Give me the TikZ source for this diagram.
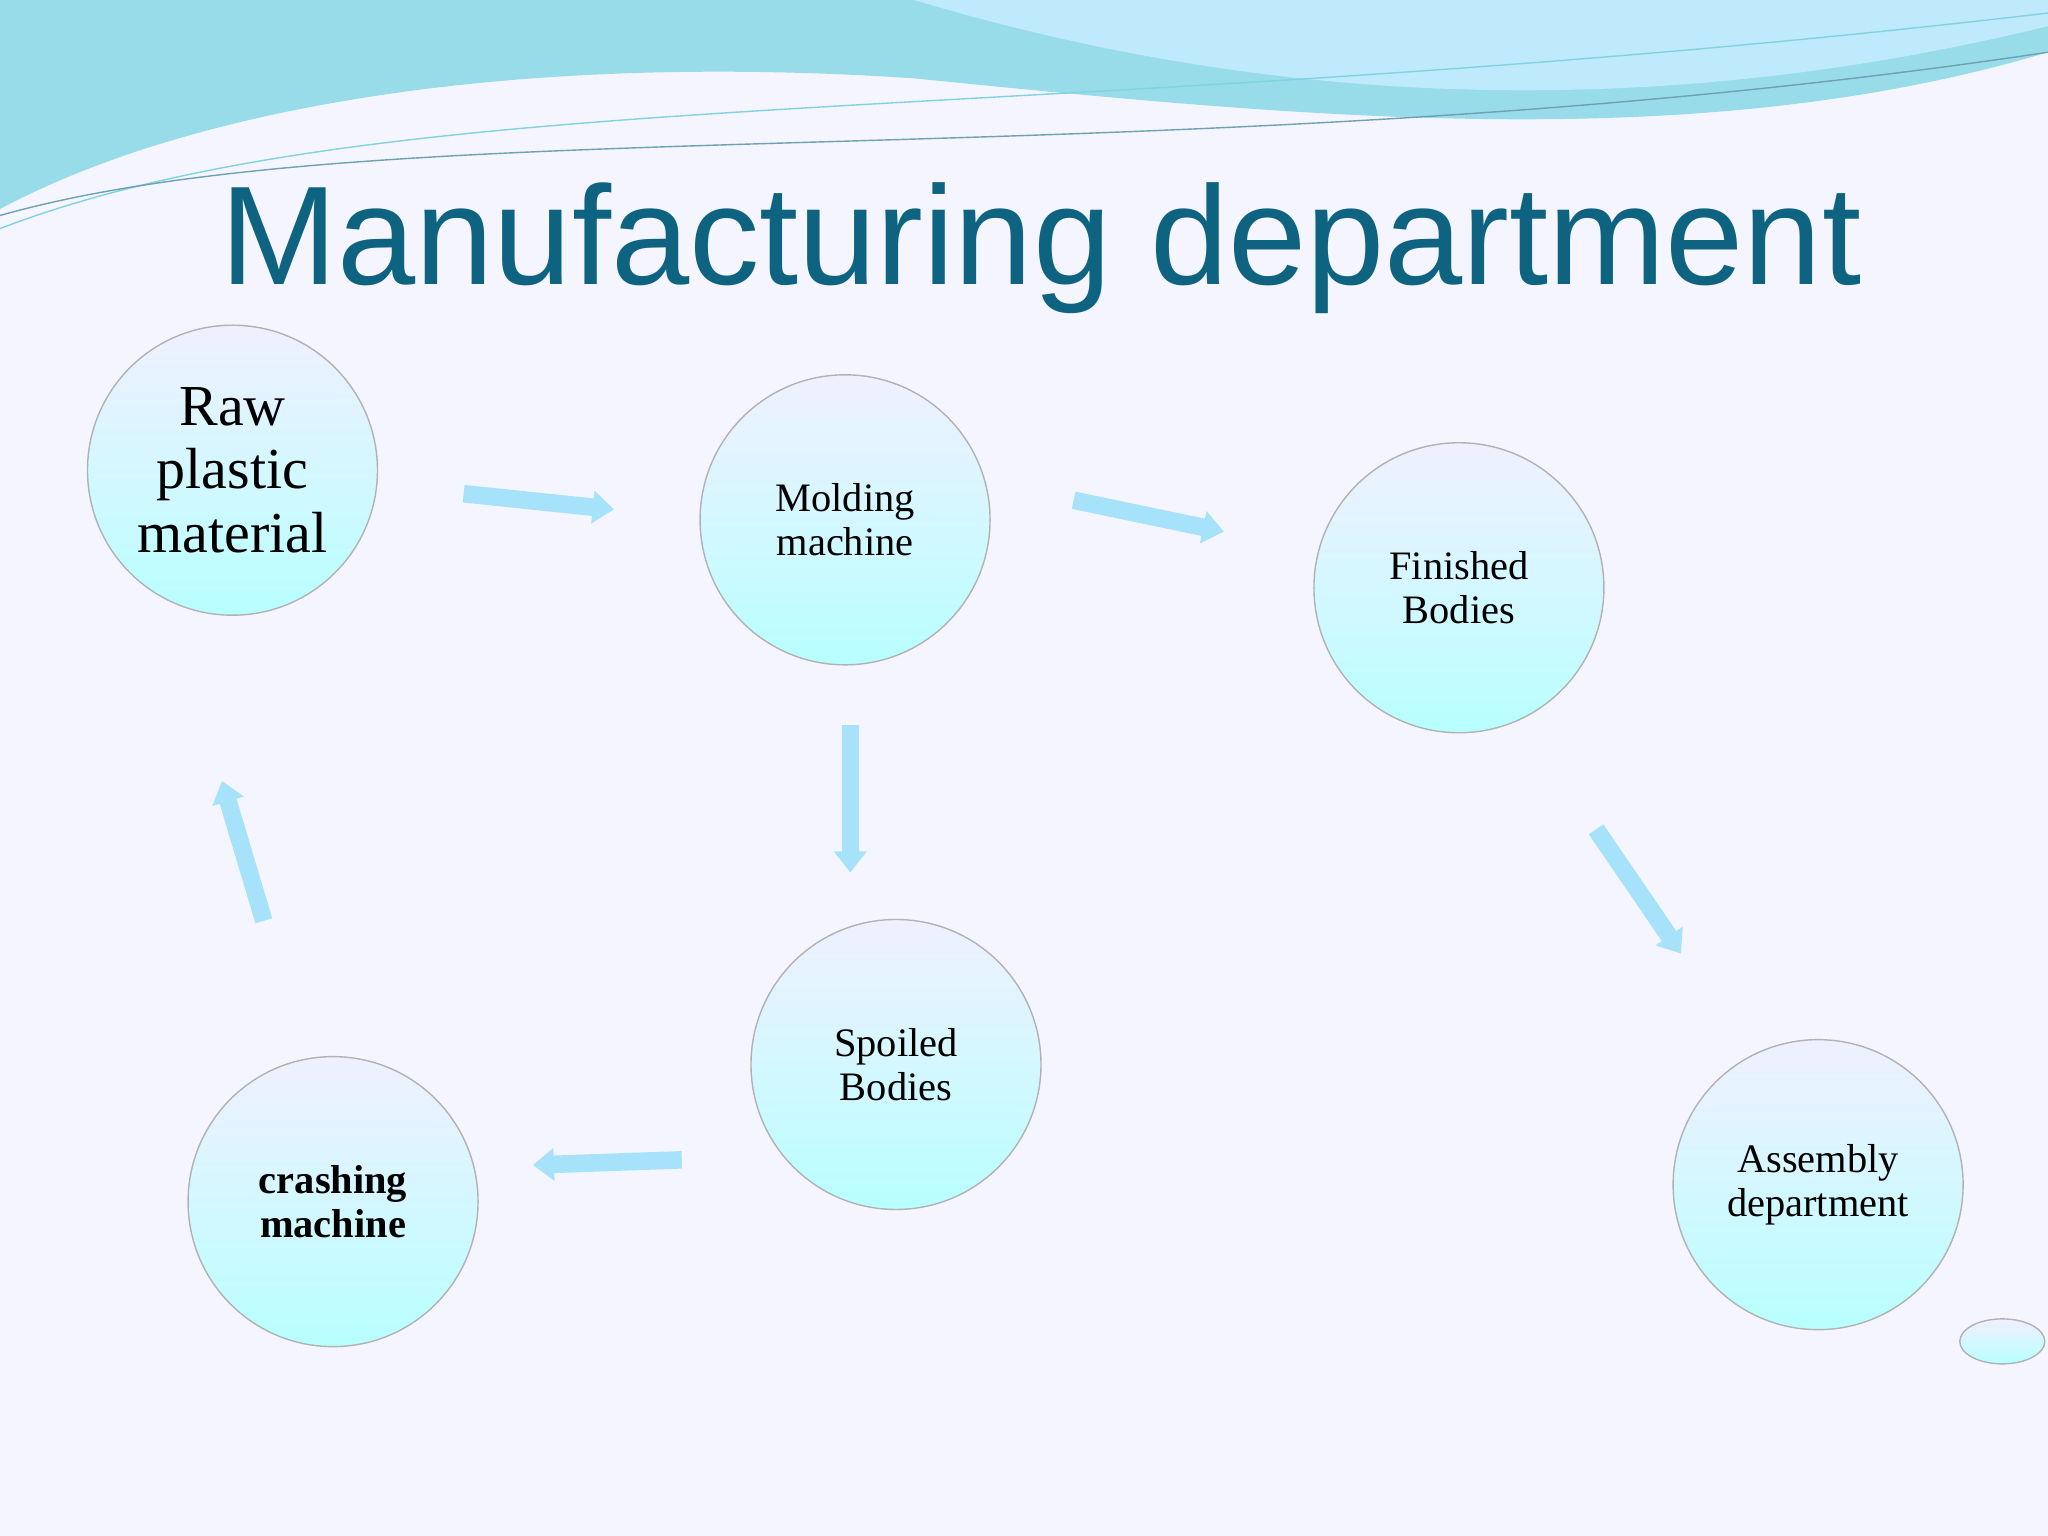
\documentclass[tikz,border=0pt]{standalone}
\usepackage{fontspec}
\setmainfont{Liberation Serif}
\newfontfamily\titlefont{Liberation Sans}
\definecolor{titleblue}{HTML}{0E6380}
\definecolor{wave}{HTML}{7FD3E3}
\usetikzlibrary{arrows.meta,shapes.geometric}
\tikzset{
  stage/.style={circle,minimum size=2.9cm,draw=gray!60,top color=blue!6,bottom color=cyan!28,
    align=center,font=\fontsize{11.5}{12.5}\selectfont,inner sep=0pt},
  flow/.style={line width=5pt,draw=cyan!35,-{Triangle[length=6pt,width=9pt]}}
}
\begin{document}
\begin{tikzpicture}[x=0.01306cm,y=-0.01306cm]
\useasboundingbox (0,0) rectangle (1568,1176);
\fill[white!96!blue] (0,0) rectangle (1568,1176);
% top waves
\fill[wave!80] (0,0) -- (1568,0) -- (1568,40) .. controls (1300,120) and (1000,90) .. (700,60)
  .. controls (400,40) and (150,80) .. (0,160) -- cycle;
\fill[cyan!25] (700,0) .. controls (900,60) and (1200,110) .. (1568,20) -- (1568,0) -- cycle;
\draw[wave] (0,175) .. controls (300,60) and (800,100) .. (1568,10);
\draw[titleblue!60] (0,165) .. controls (300,80) and (900,140) .. (1568,40);
\node[font=\titlefont\fontsize{40}{48}\selectfont,text=titleblue] (title) at (797,190) {Manufacturing department};
% stages
\node[stage,font=\fontsize{16.5}{18}\selectfont] (raw) at (178,360) {Raw\\plastic\\material};
\node[stage] (mold) at (647,398) {Molding\\machine};
\node[stage] (fin) at (1117,450) {Finished\\Bodies};
\node[stage] (spoil) at (686,815) {Spoiled\\Bodies};
\node[stage,font=\bfseries\fontsize{11.5}{12.5}\selectfont] (crash) at (255,920) {crashing\\machine};
\node[stage] (asm) at (1392,907) {Assembly\\department};
\node[ellipse,minimum width=0.85cm,minimum height=0.45cm,draw=gray!60,top color=blue!6,bottom color=cyan!28] (dot) at (1533,1027) {};
% arrows
\coordinate (a1) at (355,378); \coordinate (b1) at (470,390);
\coordinate (a2) at (822,383); \coordinate (b2) at (937,407);
\coordinate (a3) at (651,555); \coordinate (b3) at (651,668);
\coordinate (a4) at (1222,635); \coordinate (b4) at (1287,730);
\coordinate (a5) at (522,888); \coordinate (b5) at (408,892);
\coordinate (a6) at (202,705); \coordinate (b6) at (170,598);
\draw[flow] (a1) -- (b1);
\draw[flow] (a2) -- (b2);
\draw[flow] (a3) -- (b3);
\draw[flow] (a4) -- (b4);
\draw[flow] (a5) -- (b5);
\draw[flow] (a6) -- (b6);
\end{tikzpicture}
\end{document}
